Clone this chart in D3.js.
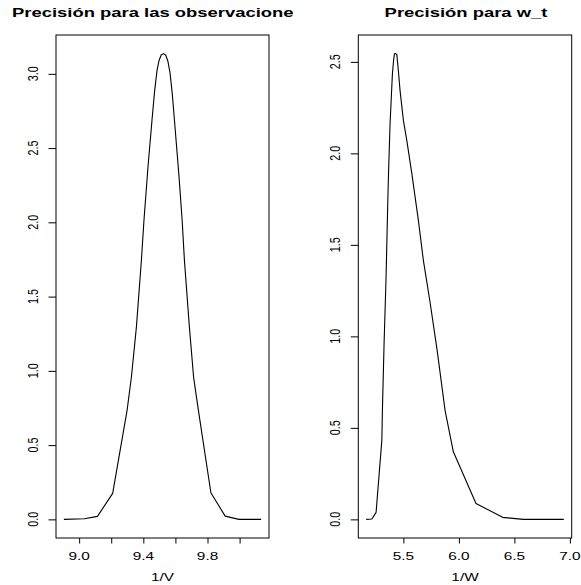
<!DOCTYPE html>
<html>
<head>
<meta charset="utf-8">
<script src="https://cdn.jsdelivr.net/npm/d3@7"></script>
<style>
  body { margin: 0; background: #fff; }
  svg text { font-family: "Liberation Sans", Arial, Helvetica, sans-serif; fill: #000; }
</style>
</head>
<body>
<div class="chart"></div>
<script>
// values
var obsX = [8.905, 9.033, 9.114, 9.209, 9.299, 9.326, 9.357, 9.388, 9.404, 9.429, 9.454, 9.470,
            9.485, 9.498, 9.512, 9.526, 9.540, 9.553, 9.566, 9.580, 9.594, 9.621, 9.642, 9.656,
            9.687, 9.713, 9.743, 9.821, 9.910, 9.996, 10.134];
var obsY = [0, 0.004, 0.02, 0.175, 0.736, 0.96, 1.296, 1.745, 2.014, 2.373, 2.687, 2.88,
            3.02, 3.09, 3.128, 3.136, 3.125, 3.085, 3.01, 2.87, 2.687, 2.328, 2.014, 1.745,
            1.296, 0.96, 0.736, 0.179, 0.022, 0, 0];

var wX = [5.165, 5.216, 5.254, 5.306, 5.311, 5.326, 5.344, 5.358, 5.366, 5.380, 5.401, 5.412,
          5.419, 5.430, 5.441, 5.455, 5.470, 5.500, 5.531, 5.576, 5.635, 5.680, 5.740, 5.806,
          5.875, 5.950, 6.154, 6.394, 6.579, 6.945];
var wY = [0, 0.002, 0.038, 0.433, 0.597, 0.961, 1.324, 1.70, 1.89, 2.162, 2.434, 2.51,
          2.544, 2.545, 2.540, 2.45, 2.343, 2.180, 2.070, 1.889, 1.634, 1.415, 1.188, 0.915,
          0.597, 0.369, 0.087, 0.011, 0, 0];

var obsXTicks = [9.0, 9.2, 9.4, 9.6, 9.8, 10.0];
var obsXLabels = ["9.0", "", "9.4", "", "9.8", ""];
var obsYTicks = [0, 0.5, 1, 1.5, 2, 2.5, 3];
var obsYLabels = ["0.0", "0.5", "1.0", "1.5", "2.0", "2.5", "3.0"];

var wXTicks = [5.5, 6.0, 6.5, 7.0];
var wXLabels = ["5.5", "6.0", "6.5", "7.0"];
var wYTicks = [0, 0.5, 1, 1.5, 2, 2.5];
var wYLabels = ["0.0", "0.5", "1.0", "1.5", "2.0", "2.5"];

// the picture is stretched sideways, so is the text
var sx = 1.28, sy = 0.9;

var svg = d3.select(".chart").append("svg").attr("width", 581).attr("height", 585);

function addText(x, y, str, size, anchor, rot, bold) {
  var tr = "translate(" + x + "," + y + ") scale(" + sx + "," + sy + ")";
  if (rot) tr += " rotate(-90)";
  return svg.append("text")
    .attr("transform", tr)
    .attr("text-anchor", anchor)
    .style("font-size", size + "px")
    .style("font-weight", bold ? "bold" : "normal")
    .text(str);
}

// R style 4% padding on both axes
function padded(vals) {
  var e = d3.extent(vals), d = (e[1] - e[0]) * 0.04;
  return [e[0] - d, e[1] + d];
}

function drawPanel(p) {
  var x = d3.scaleLinear().domain(padded(p.xs)).range([p.left, p.right]);
  var y = d3.scaleLinear().domain(padded(p.ys)).range([p.bottom, p.top]);

  var xAxis = d3.axisBottom(x).tickValues(p.xTicks).tickSize(5.5).tickFormat("");
  var gx = svg.append("g").attr("transform", "translate(0," + p.bottom + ")").call(xAxis);
  gx.select(".domain").remove();

  var yAxis = d3.axisLeft(y).tickValues(p.yTicks).tickSize(7.5).tickFormat("");
  var gy = svg.append("g").attr("transform", "translate(" + p.left + ",0)").call(yAxis);
  gy.select(".domain").remove();

  svg.selectAll(".tick line").attr("stroke", "#000");

  svg.append("rect")
    .attr("x", p.left).attr("y", p.top)
    .attr("width", p.right - p.left).attr("height", p.bottom - p.top)
    .attr("fill", "none").attr("stroke", "#000").attr("stroke-width", 1);

  var line = d3.line()
    .x(function(d) { return x(d[0]); })
    .y(function(d) { return y(d[1]); });

  svg.append("path")
    .datum(d3.zip(p.xs, p.ys))
    .attr("d", line)
    .attr("fill", "none")
    .attr("stroke", "#000")
    .attr("stroke-width", 1.1)
    .attr("stroke-linejoin", "round");

  p.xTicks.forEach(function(v, i) {
    if (p.xLabels[i] != "") addText(x(v), 559.5, p.xLabels[i], 12, "middle");
  });
  p.yTicks.forEach(function(v, i) {
    addText(p.left - 18.5, y(v), p.yLabels[i], 12, "middle", true);
  });

  addText((p.left + p.right) / 2, 580.5, p.xTitle, 12, "middle");
}

drawPanel({left: 56, right: 269, top: 35, bottom: 538,
  xs: obsX, ys: obsY, xTicks: obsXTicks, xLabels: obsXLabels,
  yTicks: obsYTicks, yLabels: obsYLabels, xTitle: "1/V"});

drawPanel({left: 358.3, right: 571.7, top: 35, bottom: 538,
  xs: wX, ys: wY, xTicks: wXTicks, xLabels: wXLabels,
  yTicks: wYTicks, yLabels: wYLabels, xTitle: "1/W"});

// titles (the left one is cut off in the original)
addText(12, 17, "Precisión para las observacione", 14.4, "start", false, true);
addText(466, 17, "Precisión para w_t", 14.4, "middle", false, true);
</script>
</body>
</html>
